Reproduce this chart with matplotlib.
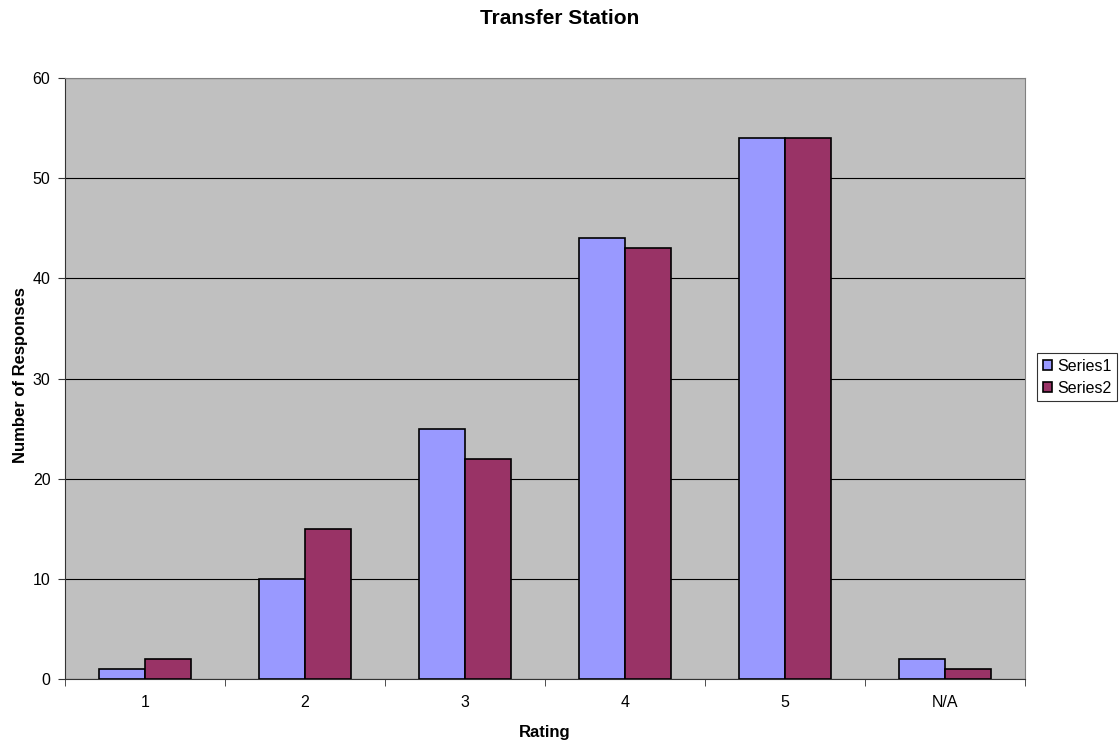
import numpy as np
import matplotlib
matplotlib.use('Agg')
import matplotlib.pyplot as plt

plt.rcParams['font.family'] = ['Liberation Sans', 'DejaVu Sans']

categories = ['1', '2', '3', '4', '5', 'N/A']
series1 = [1, 10, 25, 44, 54, 2]
series2 = [2, 15, 22, 43, 54, 1]

W, H = 1120, 746
fig = plt.figure(figsize=(W/100, H/100), dpi=100)
ax = fig.add_axes([65/W, 1-679/H, 960/W, 601/H])
ax.set_facecolor('#C0C0C0')

x = np.arange(len(categories))
w = 0.2875
ax.bar(x - w/2, series1, w, color='#9999FF', edgecolor='black', linewidth=1.2, label='Series1', zorder=3)
ax.bar(x + w/2, series2, w, color='#993366', edgecolor='black', linewidth=1.2, label='Series2', zorder=3)

ax.set_xlim(-0.5, len(categories) - 0.5)
ax.set_ylim(0, 60)
ax.set_yticks(range(0, 61, 10))
ax.yaxis.grid(True, color='black', linewidth=0.8, zorder=1)
ax.set_axisbelow(True)

ax.set_xticks(x)
ax.set_xticklabels(categories, fontsize=11.5)
ax.set_xticks(np.arange(-0.5, len(categories), 1), minor=True)
ax.tick_params(axis='x', which='major', length=0, pad=11.5)
ax.tick_params(axis='x', which='minor', length=5, direction='out', color='#333333')
ax.tick_params(axis='y', length=5, direction='out', labelsize=11.5, pad=5.5, color='#333333')

for s in ['left', 'bottom']:
    ax.spines[s].set_color('#333333')
for s in ['right', 'top']:
    ax.spines[s].set_color('#808080')

fig.text(545/W, 1-733/H, 'Rating', ha='center', va='center', fontsize=12, fontweight='bold')
fig.text(21/W, 1-375/H, 'Number of Responses', ha='center', va='center', rotation=90,
         fontsize=12, fontweight='bold')
fig.text(0.5, 1-18/H, 'Transfer Station', ha='center', va='center', fontsize=15, fontweight='bold')

leg = fig.legend(loc='upper left', bbox_to_anchor=(1037/W, 1-353/H), fontsize=11.5,
                 frameon=True, fancybox=False, edgecolor='black', handlelength=0.6,
                 handleheight=0.6, handletextpad=0.3, borderpad=0.35, labelspacing=0.45,
                 borderaxespad=0)
leg.get_frame().set_linewidth(0.8)

fig.savefig('out.png', dpi=100)
